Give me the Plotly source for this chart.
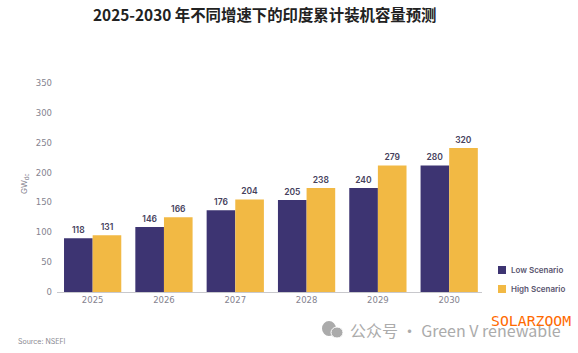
import plotly.graph_objects as go

years = ["2025", "2026", "2027", "2028", "2029", "2030"]
low_heights = [90, 109, 137, 154, 174, 212]
high_heights = [95, 125, 155, 174, 212, 241]
low_labels = ["118", "146", "176", "205", "240", "280"]
high_labels = ["131", "166", "204", "238", "279", "320"]
y_ticks = [0, 50, 100, 150, 200, 250, 300, 350]
series_names = ["Low Scenario", "High Scenario"]
series_colors = ["#3d3472", "#f2b944"]

W, H = 578, 353
FONT = "Inter, 'Noto Sans', sans-serif"
TICK_FONT = "'DejaVu Sans', sans-serif"
ML, MR, MT, MB = 57, 96, 83, 61


def px(x):
    return (x - ML) / (W - ML - MR)


def py(y):
    return 1 - (y - MT) / (H - MT - MB)


fig = go.Figure()
for name, vals, labels, color in zip(
    series_names, [low_heights, high_heights], [low_labels, high_labels], series_colors
):
    fig.add_bar(
        x=years, y=vals, name=name, text=labels, marker_color=color,
        marker_line_width=0, textposition="outside", cliponaxis=False,
        textfont=dict(size=8.5, color="#45415c", family=FONT, weight=600),
        showlegend=False,
    )

annotations = [
    dict(text="<b>2025-2030 年不同增速下的印度累计装机容量预测</b>", x=px(264), y=py(14),
         font=dict(size=15.4, color="#222222", family="'Noto Sans CJK SC'")),
    dict(text="GW<sub>dc</sub>", x=px(24), y=py(184), textangle=-90,
         font=dict(size=8, color="#85838f", family=FONT)),
    dict(text="Source: NSEFI", x=px(16), y=py(341), xanchor="left",
         font=dict(size=7, color="#8a8a92", family=FONT)),
    dict(text="公众号 · Green V renewable", x=px(348), y=py(330), xanchor="left",
         font=dict(size=16, color="#ababab", family="'Noto Sans CJK SC'")),
    dict(text="SOLARZOOM", x=px(489), y=py(320), xanchor="left",
         font=dict(size=14.8, color="#ff6a00", family="'DejaVu Sans Mono'")),
]
shapes = [
    dict(type="circle", xref="paper", yref="paper", x0=px(322), x1=px(336), y0=py(336), y1=py(321),
         fillcolor="#ababab", line_width=0),
    dict(type="circle", xref="paper", yref="paper", x0=px(331), x1=px(343), y0=py(338), y1=py(327),
         fillcolor="#ababab", line=dict(color="white", width=1)),
]
for name, color, cy in zip(series_names, series_colors, [270, 289]):
    shapes.append(dict(type="rect", xref="paper", yref="paper", x0=px(498), x1=px(506),
                       y0=py(cy + 4), y1=py(cy - 4), fillcolor=color, line_width=0))
    annotations.append(dict(text=name, x=px(509), y=py(cy), xanchor="left",
                            font=dict(size=8, color="#5a5670", family=FONT, weight=600)))

for a in annotations:
    a.update(xref="paper", yref="paper", showarrow=False, yanchor="middle")
    if "xanchor" not in a:
        a["xanchor"] = "center"

fig.update_layout(
    width=W, height=H, autosize=False,
    margin=dict(l=ML, r=MR, t=MT, b=MB),
    paper_bgcolor="white", plot_bgcolor="white",
    barmode="group", bargap=0.197, bargroupgap=0,
    font=dict(family=FONT),
    showlegend=False,
    annotations=annotations, shapes=shapes,
    xaxis=dict(
        type="category", range=[-0.5, 5.46], showgrid=False, ticks="",
        showline=True, linecolor="#c8c8cc", linewidth=1,
        tickfont=dict(size=8.5, color="#85838f", family=TICK_FONT),
    ),
    yaxis=dict(
        range=[0, 350], tickvals=y_ticks, showgrid=False, zeroline=False, ticks="",
        showline=False, ticklabelstandoff=4,
        tickfont=dict(size=8.5, color="#85838f", family=TICK_FONT),
    ),
)
fig.write_html("out.html", post_script="document.body.style.margin='0';",
               config={"displayModeBar": False})
